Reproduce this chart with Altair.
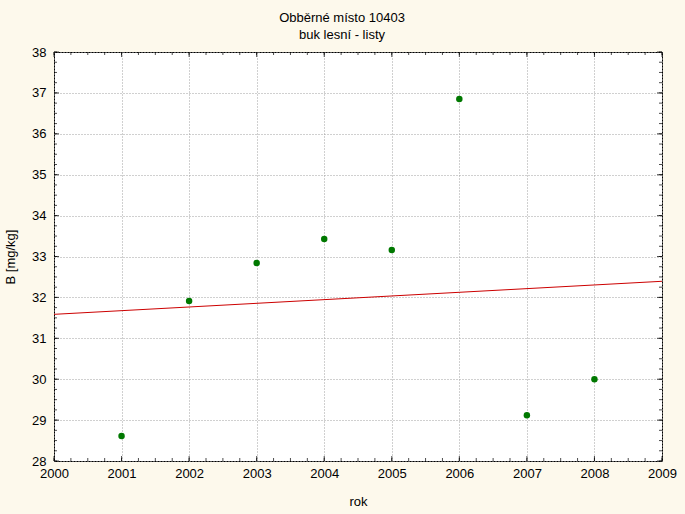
import altair as alt
import pandas as pd

years = [2001, 2002, 2003, 2004, 2005, 2006, 2007, 2008]
values = [28.61, 31.91, 32.84, 33.43, 33.16, 36.85, 29.12, 30.0]
x_major = list(range(2000, 2010))
y_major = list(range(28, 39))
x_minor = [2000 + i * 0.25 for i in range(37)]
y_minor = [28 + i * 0.25 for i in range(41)]
title_lines = ["Obběrné místo 10403", "buk lesní - listy"]

FONT = "Liberation Sans"
df = pd.DataFrame({"rok": years, "B": values})

xs = alt.Scale(domain=[2000, 2009], nice=False, zero=False)
ys = alt.Scale(domain=[28, 38], nice=False, zero=False)

base = alt.Chart(df)

points = base.mark_circle(size=42, color="#007800", opacity=1).encode(
    x=alt.X("rok:Q", scale=xs,
            axis=alt.Axis(values=x_major, format="d", title="rok", grid=True,
                          gridColor="#a0a0a0", gridDash=[1, 2], gridWidth=1,
                          domain=False, ticks=False, labelPadding=6,
                          labelFontSize=13, labelFont=FONT, labelColor="black",
                          titleFont=FONT, titleFontSize=13, titleFontWeight="normal",
                          titleColor="black", titlePadding=15, labelFlush=False)),
    y=alt.Y("B:Q", scale=ys,
            axis=alt.Axis(values=y_major, format="d", title="B [mg/kg]", grid=True,
                          gridColor="#a0a0a0", gridDash=[1, 2], gridWidth=1,
                          domain=False, ticks=False, labelPadding=8,
                          labelFontSize=13, labelFont=FONT, labelColor="black",
                          titleFont=FONT, titleFontSize=13, titleFontWeight="normal",
                          titleColor="black", titlePadding=14, labelFlush=False)),
)

reg = base.transform_regression("rok", "B", extent=[2000, 2009]).mark_line(
    color="#cc0000", strokeWidth=1
).encode(
    x=alt.X("rok:Q", scale=xs),
    y=alt.Y("B:Q", scale=ys),
)

def xticks(vals, size, ypos, off):
    d = pd.DataFrame({"rok": vals, "B": [ypos] * len(vals)})
    return alt.Chart(d).mark_tick(orient="vertical", size=size, thickness=1,
                                  color="black", yOffset=off).encode(
        x=alt.X("rok:Q", scale=xs), y=alt.Y("B:Q", scale=ys))

def yticks(vals, size, xpos, off):
    d = pd.DataFrame({"B": vals, "rok": [xpos] * len(vals)})
    return alt.Chart(d).mark_tick(orient="horizontal", size=size, thickness=1,
                                  color="black", xOffset=off).encode(
        y=alt.Y("B:Q", scale=ys), x=alt.X("rok:Q", scale=xs))

layers = [
    points,
    reg,
    xticks(x_minor, 3, 28, -1.5), xticks(x_major, 5, 28, -2.5),
    xticks(x_minor, 3, 38, 1.5), xticks(x_major, 5, 38, 2.5),
    yticks(y_minor, 3, 2000, 1.5), yticks(y_major, 5, 2000, 2.5),
    yticks(y_minor, 3, 2009, -1.5), yticks(y_major, 5, 2009, -2.5),
]

chart = alt.layer(*layers).properties(
    width=608, height=409,
    title=alt.TitleParams(text=title_lines, font=FONT, fontSize=13, fontWeight="normal",
                          color="black", anchor="middle", dx=-16, offset=4, lineHeight=17),
    padding={"left": 54, "top": 52, "right": 23, "bottom": 53},
    autosize=alt.AutoSizeParams(type="none"),
).configure(background="#fdf9ec").configure_view(stroke="black", strokeWidth=1, fill="white")

chart.save("out.html", embed_options={"renderer": "svg", "actions": False})
